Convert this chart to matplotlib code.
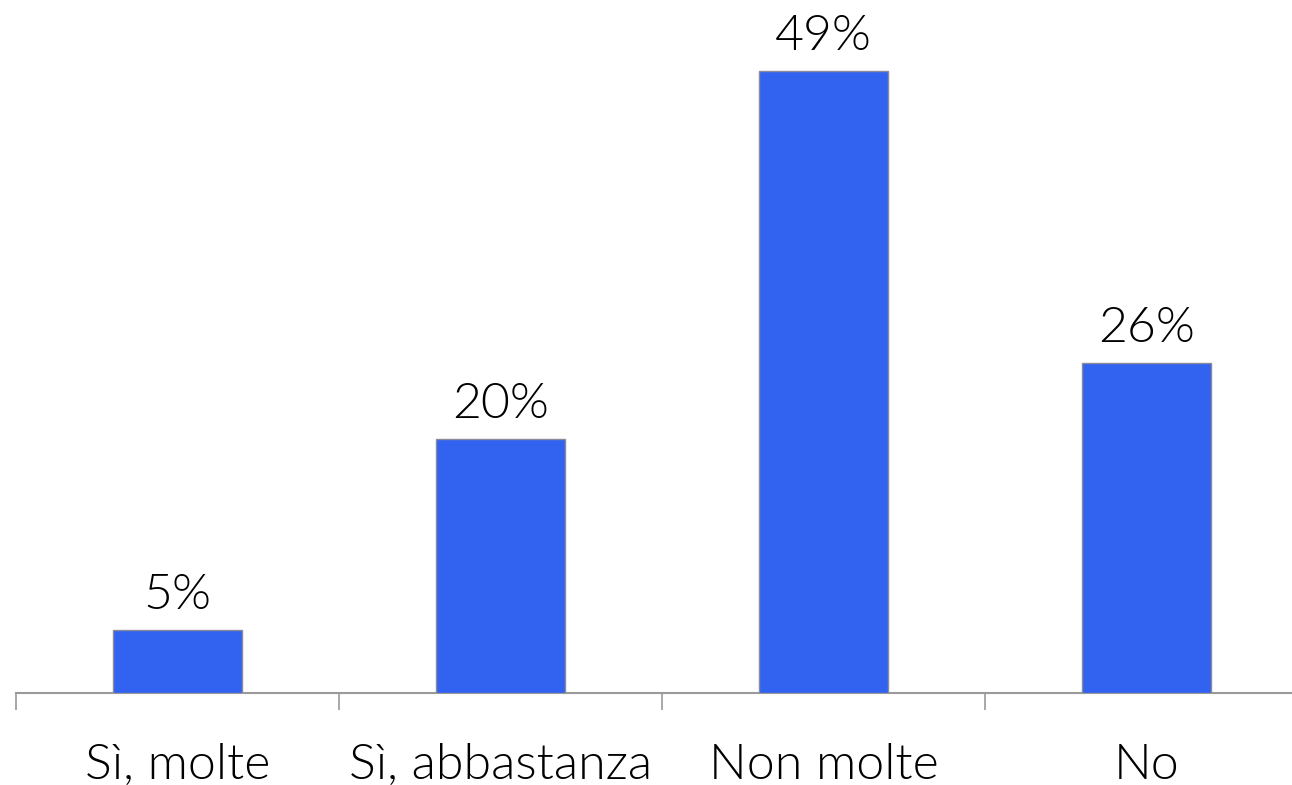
import matplotlib
matplotlib.use("Agg")
import matplotlib.pyplot as plt
from matplotlib.ticker import FixedLocator

categories = ["Sì, molte", "Sì, abbastanza", "Non molte", "No"]
values = [5, 20, 49, 26]
value_labels = ["5%", "20%", "49%", "26%"]

plt.rcParams['font.family'] = ['Lato', 'DejaVu Sans']

W, H = 1292, 785
fig = plt.figure(figsize=(W/100, H/100), dpi=100)
left = 16 / W
bottom = (H - 693) / H
ax = fig.add_axes([left, bottom, 4*323/W, 693/H])

x = list(range(len(categories)))
ax.bar(x, values, width=0.4, color="#3162f0", edgecolor="#8a8a9a", linewidth=1.0, zorder=3)

for xi, v, lab in zip(x, values, value_labels):
    ax.annotate(lab, (xi, v), xytext=(0, 15), textcoords="offset points",
                ha="center", va="baseline", fontsize=36, fontweight=300, color="#000000")

ax.set_xlim(-0.5, 3.5)
ax.set_ylim(0, 693/12.69)

ax.set_xticks(x)
ax.set_xticklabels(categories, fontsize=36, fontweight=300, color="#000000")
ax.tick_params(axis="x", which="major", length=0, pad=36)
ax.xaxis.set_minor_locator(FixedLocator([-0.5, 0.5, 1.5, 2.5]))
ax.tick_params(axis="x", which="minor", length=12, width=1.2, color="#9a9a9a")
ax.set_yticks([])
for s in ["top", "right", "left"]:
    ax.spines[s].set_visible(False)
ax.spines["bottom"].set_color("#9a9a9a")
ax.spines["bottom"].set_linewidth(1.5)

fig.savefig("out.png", dpi=100)
